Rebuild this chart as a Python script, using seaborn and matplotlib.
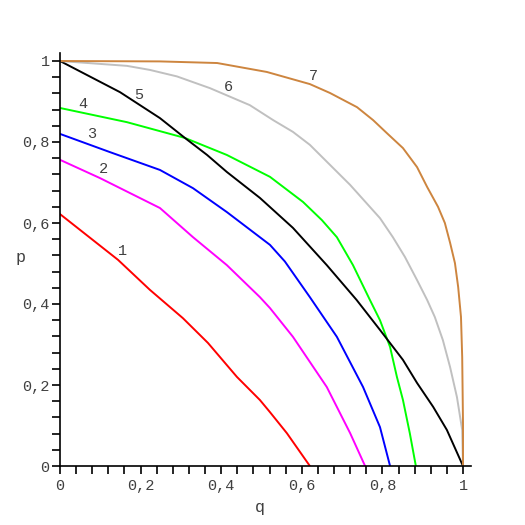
import numpy as np
import pandas as pd
import matplotlib
matplotlib.use("Agg")
import matplotlib.pyplot as plt
import seaborn as sns

### curve data (q, p)
q1 = [0, 0.144, 0.223, 0.305, 0.367, 0.439, 0.496, 0.521, 0.563, 0.62]
p1 = [0.622, 0.509, 0.435, 0.365, 0.304, 0.220, 0.163, 0.133, 0.081, 0]

q2 = [0, 0.099, 0.248, 0.33, 0.414, 0.496, 0.521, 0.578, 0.662, 0.72, 0.757]
p2 = [0.756, 0.711, 0.637, 0.565, 0.496, 0.417, 0.39, 0.319, 0.195, 0.081, 0]

q3 = [0, 0.124, 0.248, 0.33, 0.414, 0.521, 0.558, 0.62, 0.687, 0.752, 0.794, 0.819]
p3 = [0.82, 0.775, 0.731, 0.686, 0.627, 0.546, 0.505, 0.417, 0.319, 0.195, 0.096, 0]

q4 = [0, 0.166, 0.31, 0.414, 0.521, 0.603, 0.65, 0.687, 0.727, 0.769, 0.794, 0.819, 0.836, 0.851, 0.868, 0.883]
p4 = [0.884, 0.849, 0.81, 0.768, 0.714, 0.652, 0.607, 0.565, 0.496, 0.41, 0.36, 0.294, 0.22, 0.163, 0.081, 0]

q5 = [0, 0.149, 0.248, 0.31, 0.365, 0.414, 0.496, 0.578, 0.662, 0.736, 0.794, 0.851, 0.886, 0.926, 0.96, 1.0]
p5 = [1.0, 0.923, 0.859, 0.81, 0.768, 0.726, 0.662, 0.588, 0.496, 0.41, 0.336, 0.262, 0.205, 0.146, 0.089, 0]

q6 = [0, 0.166, 0.223, 0.29, 0.372, 0.471, 0.529, 0.578, 0.62, 0.72, 0.794, 0.826, 0.856, 0.886, 0.911,
      0.93, 0.95, 0.968, 0.985, 0.998, 1.0]
p6 = [1.0, 0.988, 0.978, 0.962, 0.933, 0.891, 0.854, 0.825, 0.793, 0.694, 0.612, 0.565, 0.516, 0.459, 0.41,
      0.368, 0.311, 0.244, 0.17, 0.089, 0]

q7 = [0, 0.248, 0.39, 0.513, 0.62, 0.67, 0.737, 0.777, 0.811, 0.851, 0.886, 0.911, 0.938, 0.955, 0.968,
      0.98, 0.988, 0.995, 0.998, 1.0, 1.0]
p7 = [1.0, 0.999, 0.995, 0.973, 0.943, 0.921, 0.886, 0.854, 0.822, 0.785, 0.738, 0.689, 0.64, 0.6, 0.551,
      0.501, 0.442, 0.368, 0.269, 0.106, 0]

curve_names = ["1", "2", "3", "4", "5", "6", "7"]
curve_colors = ["#ff0000", "#ff00ff", "#0000ff", "#00ff00", "#000000", "#c0c0c0", "#cd853f"]

tick_vals = [0, 0.2, 0.4, 0.6, 0.8, 1]
tick_labels = ["0", "0,2", "0,4", "0,6", "0,8", "1"]

### wide to long
frames = []
for name, q, p in zip(curve_names, [q1, q2, q3, q4, q5, q6, q7], [p1, p2, p3, p4, p5, p6, p7]):
    frames.append(pd.DataFrame({"q": q, "p": p, "curve": name}))
data = pd.concat(frames, ignore_index=True)

### plotting here ###
sns.set_style("white")
plt.rcParams["font.family"] = ["Liberation Mono", "DejaVu Sans Mono"]
txt_color = "#404040"

fig = plt.figure(figsize=(5.25, 5.25), dpi=100)
ax = fig.add_axes([60 / 525, 59 / 525, 1.02 * 403 / 525, 1.02 * 405 / 525])

sns.lineplot(data=data, x="q", y="p", hue="curve", palette=dict(zip(curve_names, curve_colors)),
             estimator=None, sort=False, legend=False, linewidth=1.4, ax=ax)

ax.set_xlim(0, 1.02)
ax.set_ylim(0, 1.02)
for s in ["top", "right"]:
    ax.spines[s].set_visible(False)
for s in ["left", "bottom"]:
    ax.spines[s].set_color("black")
    ax.spines[s].set_linewidth(1.2)

ax.set_xticks(tick_vals)
ax.set_xticklabels(tick_labels)
ax.set_yticks(tick_vals)
ax.set_yticklabels(tick_labels)
ax.set_xticks(np.arange(0, 1.01, 0.04), minor=True)
ax.set_yticks(np.arange(0, 1.01, 0.04), minor=True)
ax.tick_params(which="both", direction="out", length=5.5, width=1.2, color="black",
               bottom=True, left=True, labelsize=11, labelcolor=txt_color)
ax.tick_params(axis="x", pad=4)
ax.tick_params(axis="y", pad=2)

ax.set_xlabel("q", fontsize=12, color=txt_color)
ax.set_ylabel("p", fontsize=12, color=txt_color, rotation=0)
ax.xaxis.set_label_coords(0.496 / 1.02, -0.084 / 1.02)
ax.yaxis.set_label_coords(-0.099 / 1.02, 0.496 / 1.02)

### curve numbers
label_pos = [(0.154, 0.531), (0.107, 0.733), (0.079, 0.82), (0.057, 0.894),
             (0.196, 0.916), (0.417, 0.936), (0.628, 0.963)]
for name, (x, y) in zip(curve_names, label_pos):
    ax.text(x, y, name, fontsize=11, color=txt_color, ha="center", va="center")

plt.savefig("out.png", dpi=100)
